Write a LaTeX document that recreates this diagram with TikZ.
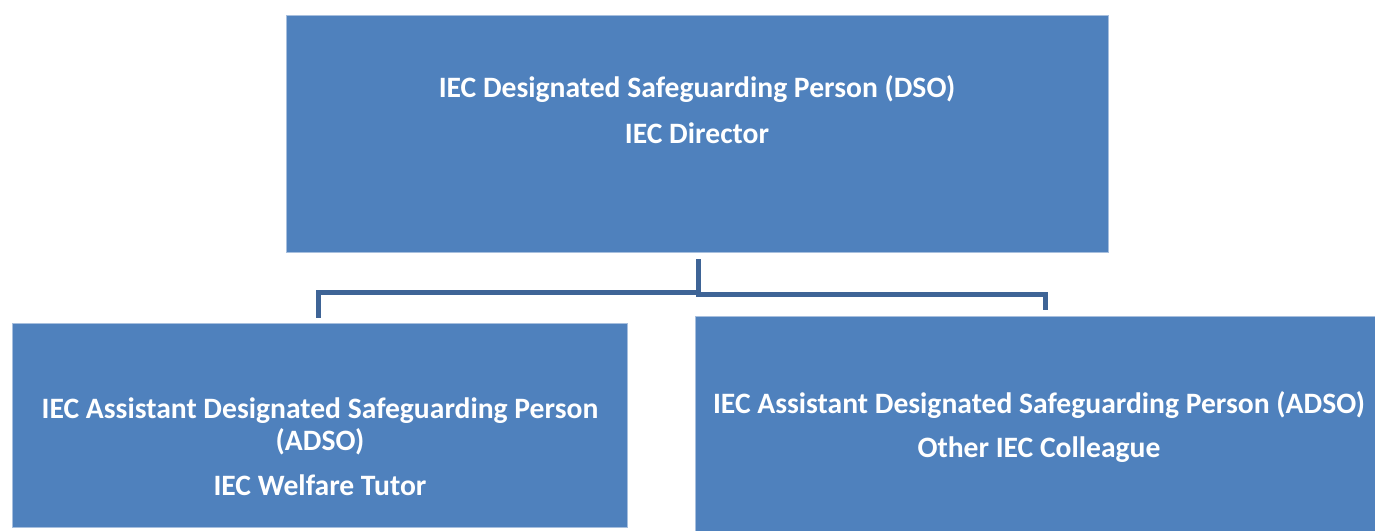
\documentclass[tikz,border=0pt]{standalone}
\usepackage{fontspec}
\setmainfont{Carlito}
\definecolor{boxblue}{HTML}{4F81BD}
\definecolor{boxedge}{HTML}{A7BFDE}
\definecolor{linkblue}{HTML}{3E6496}
\begin{document}
\begin{tikzpicture}[x=1pt,y=-1pt,
  orgbox/.style={fill=boxblue,draw=boxedge,line width=0.8pt},
  lbl/.style={text=white,font=\fontsize{29.6}{34}\selectfont\bfseries,anchor=base,inner sep=0pt},
  link/.style={draw=linkblue,line width=5pt}]
\useasboundingbox (0,0) rectangle (1375,530);
\path[orgbox] (286,15) rectangle (1108,252);
\path[orgbox] (12,323) rectangle (627,527);
\path[orgbox] (695,316) rectangle (1376,531);
\node[lbl] (t1) at (697,97) {IEC Designated Safeguarding Person (DSO)};
\node[lbl] (t2) at (697,143) {IEC Director};
\node[lbl] (l1) at (320,418) {IEC Assistant Designated Safeguarding Person};
\node[lbl] (l2) at (320,450) {(ADSO)};
\node[lbl] (l3) at (320,495) {IEC Welfare Tutor};
\node[lbl] (r1) at (1039,413) {IEC Assistant Designated Safeguarding Person (ADSO)};
\node[lbl] (r2) at (1039,457) {Other IEC Colleague};
\coordinate (v0) at (698,259);
\coordinate (vl) at (698,292.5);
\coordinate (vr) at (698,294.5);
\coordinate (lstub) at (318,318);
\coordinate (rstub) at (1045,310);
\draw[link] (v0) -- (698,297);
\draw[link] (vl) -| (lstub);
\draw[link] (vr) -| (rstub);
\end{tikzpicture}
\end{document}
